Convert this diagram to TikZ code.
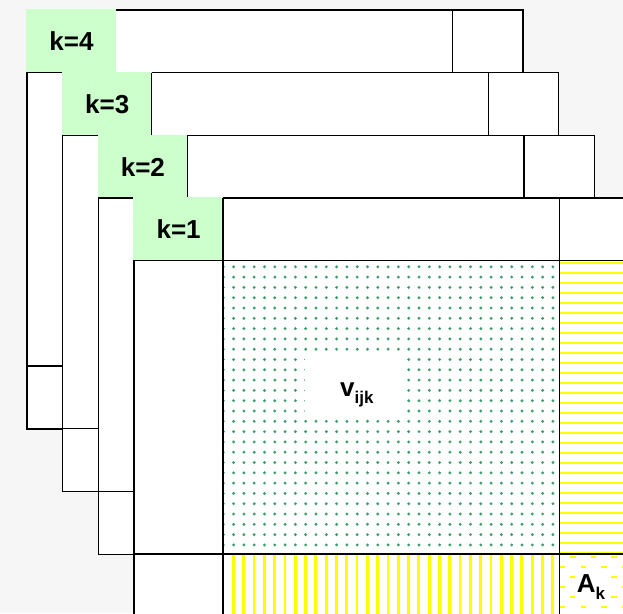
\documentclass[tikz,border=0pt]{standalone}
\usepackage{fontspec}
\setmainfont{Liberation Sans}
\definecolor{bg}{RGB}{246,246,246}
\definecolor{lab}{RGB}{204,255,204}
\definecolor{dotc}{RGB}{60,160,110}
\definecolor{yel}{RGB}{255,255,0}
\begin{document}
\begin{tikzpicture}[x=1pt,y=-1pt,
  gridline/.style={line width=1.3pt, black},
  labtext/.style={font=\fontsize{26}{30}\selectfont\bfseries, inner sep=0pt},
  yline/.style={yel, line width=2.8pt}]
\useasboundingbox (0,0) rectangle (623,613);
\clip (0,0) rectangle (623,613);
\fill[bg] (0,0) rectangle (623,613);
\def\W{496}\def\H{419}\def\cw{89}\def\th{62.7}\def\rw{70.5}\def\bh{63}
\foreach \i/\k in {0/4,1/3,2/2,3/1}{
  \pgfmathsetmacro\ox{27+35.7*\i}
  \pgfmathsetmacro\oy{10+62.7*\i}
  \pgfmathsetmacro\ex{\ox+\W}
  \pgfmathsetmacro\ey{\oy+\H}
  \pgfmathsetmacro\cx{\ox+\cw}
  \pgfmathsetmacro\ry{\oy+\th}
  \pgfmathsetmacro\rx{\ex-\rw}
  \pgfmathsetmacro\by{\ey-\bh}
  \fill[white] (\ox,\oy) rectangle (\ex,\ey);
  \draw[gridline] (\ox,\oy) rectangle (\ex,\ey);
  \draw[gridline] (\ox,\ry) -- (\ex,\ry) (\ox,\by) -- (\ex,\by)
                  (\rx,\oy) -- (\rx,\ey) (\cx,\ry) -- (\cx,\ey);
  \fill[lab] (\ox-0.65,\oy-0.65) rectangle (\cx,\ry);
  \ifnum\k=4\relax\else \draw[gridline] (\cx,\oy) -- (\cx,\ry);\fi
  \draw[gridline] (\ox-0.65,\ry) -- (\cx,\ry);
  \node[labtext] (k\k) at ({(\ox+\cx)/2},{(\oy+\ry)/2}) {k=\k};
}
% layer 1 patterns
\begin{scope}
  \clip (223.1,260.8) rectangle (559.6,554.1);
  \foreach \xx in {0,...,33}{
    \foreach \yy in {0,...,29}{
      \fill[dotc] ({223.3+10.3*\xx},{266.8+10.3*\yy}) circle (1.6);
    }
  }
\end{scope}
\begin{scope}
  \clip (559.6,260.8) rectangle (630,554.1);
  \foreach \n in {0,...,29}{
    \draw[yline] (559.6,{263+10*\n}) -- (630,{263+10*\n});
  }
\end{scope}
\begin{scope}
  \clip (223.1,554.1) rectangle (559.6,620);
  \foreach \n in {0,...,33}{
    \draw[yline] ({233.4+10.3*\n},554.1) -- ({233.4+10.3*\n},620);
  }
\end{scope}
\begin{scope}
  \clip (559.6,554.1) rectangle (630,620);
  \foreach \n in {0,...,6}{
    \pgfmathsetmacro\sx{549.6+10.3*mod(\n,2)}
    \draw[yline, dash pattern=on 5.5pt off 15.1pt] (\sx,{557+10*\n}) -- (640,{557+10*\n});
  }
\end{scope}
% redraw layer 1 lines
\draw[gridline] (223.1,260.8) -- (223.1,620) (559.6,198.1) -- (559.6,620)
  (134.1,554.1) -- (630,554.1) (134.1,260.8) -- (630,260.8);
\fill[white] (305,357) rectangle (407,413);
\node[labtext, anchor=base west] (v) at (340,396.5)
  {v\raisebox{-7pt}{\fontsize{17}{20}\selectfont ijk}};
\node[labtext, fill=white, inner sep=1.5pt] (A) at (591,587)
  {A\raisebox{-7pt}{\fontsize{17}{20}\selectfont k}};
\end{tikzpicture}
\end{document}
